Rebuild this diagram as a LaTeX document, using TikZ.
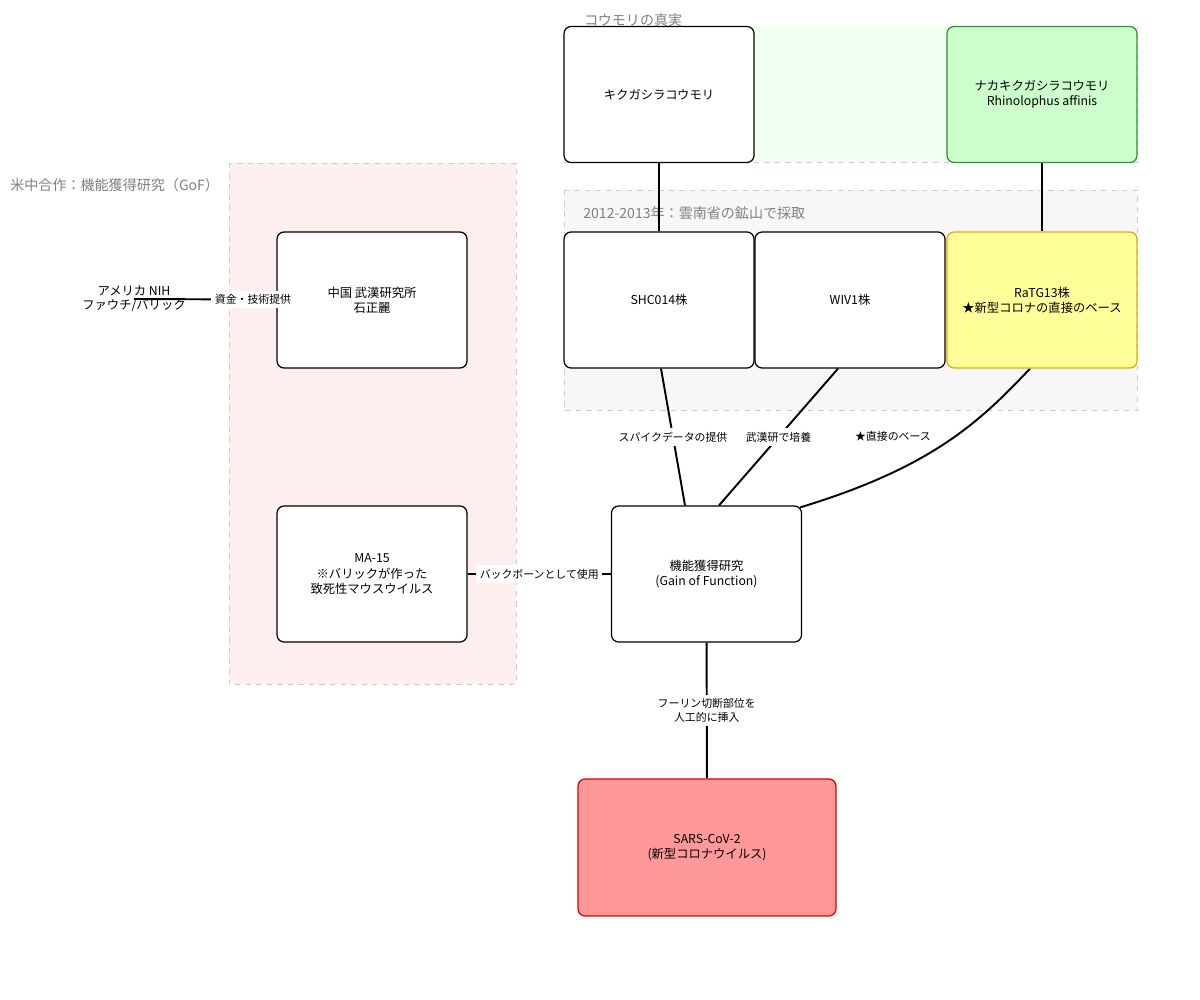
\documentclass[tikz,border=0pt]{standalone}
\usepackage{fontspec}
\setmainfont{Noto Sans CJK JP}
\usetikzlibrary{positioning,calc}

\definecolor{greenzone}{RGB}{240,255,240}
\definecolor{grayzone}{RGB}{247,247,247}
\definecolor{pinkzone}{RGB}{255,238,238}
\definecolor{batgreen}{RGB}{204,255,204}
\definecolor{batborder}{RGB}{40,150,40}
\definecolor{ratfill}{RGB}{255,255,153}
\definecolor{ratborder}{RGB}{230,170,0}
\definecolor{sarsfill}{RGB}{255,153,153}
\definecolor{sarsborder}{RGB}{220,0,0}

\pgfdeclarelayer{zones}
\pgfdeclarelayer{lines}
\pgfsetlayers{zones,lines,main}

\tikzset{
  box/.style={draw, rounded corners=4pt, fill=white, align=center,
    minimum width=3.8cm, minimum height=2.72cm, line width=0.7pt,
    font=\fontsize{7}{8.6}\selectfont},
  zone/.style={draw=gray!40, dashed, line width=0.5pt},
  zonelabel/.style={anchor=west, text=gray, inner sep=0pt,
    font=\fontsize{8}{9.5}\selectfont},
  link/.style={line width=1.1pt},
  lbl/.style={fill=white, inner sep=2pt, align=center,
    font=\fontsize{6.2}{7.6}\selectfont}
}

\begin{document}
\begin{tikzpicture}[x=0.02cm,y=-0.02cm]
    \useasboundingbox (0,0) rectangle (1200,1000);

    % Draw the zones
    \begin{pgfonlayer}{zones}
    \fill[greenzone] (564,27) rectangle (1137,162);
    \draw[zone] (564,162) -- (1137,162) -- (1137,27);
    \node[zonelabel] (zbat) at (584,20) {コウモリの真実};

    \filldraw[zone, fill=grayzone] (564,190) rectangle (1137,410);
    \node[zonelabel] (zmine) at (583,213) {2012-2013年：雲南省の鉱山で採取};

    \filldraw[zone, fill=pinkzone] (229,163) rectangle (516,684);
    \node[zonelabel] (zgof) at (10,185) {米中合作：機能獲得研究（GoF）};
    \end{pgfonlayer}

    % Bats
    \node[box] (kiku) at (659,94.5) {キクガシラコウモリ};
    \node[box, fill=batgreen, draw=batborder] (naka) at (1042,94.5)
        {ナカキクガシラコウモリ\\Rhinolophus affinis};

    % Strains
    \node[box] (shc) at (659,300) {SHC014株};
    \node[box] (wiv) at (850,300) {WIV1株};
    \node[box, fill=ratfill, draw=ratborder] (rat) at (1042,300)
        {RaTG13株\\★新型コロナの直接のベース};

    % Lab side
    \node[align=center, font=\fontsize{7}{8}\selectfont] (nih) at (134,299)
        {アメリカ NIH\\ファウチ/バリック};
    \node[box] (wuhan) at (372,300) {中国 武漢研究所\\石正麗};
    \node[box] (ma) at (372,574) {MA-15\\※バリックが作った\\致死性マウスウイルス};
    \node[box] (gof) at (706.5,574) {機能獲得研究\\(Gain of Function)};
    \node[box, minimum width=5.16cm, minimum height=2.74cm,
        fill=sarsfill, draw=sarsborder] (sars) at (707,847.5)
        {SARS-CoV-2\\(新型コロナウイルス)};

    % Draw the links
    \begin{pgfonlayer}{lines}
    \draw[link] (kiku) -- (shc);
    \draw[link] (naka) -- (rat);
    \draw[link] (nih.center) -- (wuhan.center);
    \draw[link] (ma) -- (gof);
    \draw[link] ($(shc.south)+(2,0)$) -- ($(gof.north)+(-21.5,0)$);
    \draw[link] ($(wiv.south)+(-12,0)$) -- ($(gof.north)+(12.5,0)$);
    \draw[link] ($(rat.south)+(-12,0)$) .. controls +(-50,53) and +(132,-40)
        .. ($(gof.north east)+(-2,2)$);
    \draw[link] (gof) -- (sars);
    \end{pgfonlayer}

    % Link labels
    \path (nih.center) -- (wuhan.center) node[lbl, midway] {資金・技術提供};
    \path (ma) -- (gof) node[lbl, midway] {バックボーンとして使用};
    \path ($(shc.south)+(2,0)$) -- ($(gof.north)+(-21.5,0)$)
        node[lbl, midway] {スパイクデータの提供};
    \path ($(wiv.south)+(-12,0)$) -- ($(gof.north)+(12.5,0)$)
        node[lbl, midway] {武漢研で培養};
    \node[lbl, fill=none] (base) at (893,436) {★直接のベース};
    \path (gof) -- (sars) node[lbl, midway] {フーリン切断部位を\\人工的に挿入};
\end{tikzpicture}
\end{document}
